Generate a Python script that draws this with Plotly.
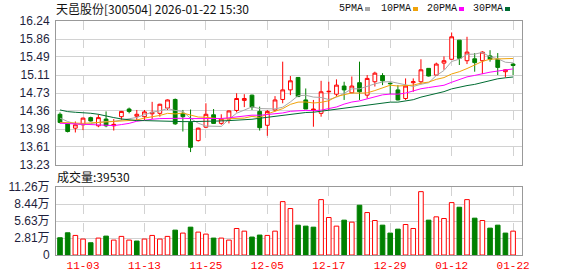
import plotly.graph_objects as go

# ---------------- data ----------------
dates = ["10-29", "10-30", "10-31",
         "11-03", "11-04", "11-05", "11-06", "11-07",
         "11-10", "11-11", "11-12", "11-13", "11-14",
         "11-17", "11-18", "11-19", "11-20", "11-21",
         "11-24", "11-25", "11-26", "11-27", "11-28",
         "12-01", "12-02", "12-03", "12-04", "12-05",
         "12-08", "12-09", "12-10", "12-11", "12-12",
         "12-15", "12-16", "12-17", "12-18", "12-19",
         "12-22", "12-23", "12-24", "12-25", "12-26",
         "12-29", "12-30", "12-31",
         "01-05", "01-06", "01-07", "01-08", "01-09",
         "01-12", "01-13", "01-14", "01-15", "01-16",
         "01-19", "01-20", "01-21", "01-22"]

open_ = [14.29, 14.09, 14.00, 14.07, 14.22, 14.05, 14.19, 14.05, 14.24, 14.40,
         14.25, 14.24, 14.30, 14.31, 14.42, 14.60, 14.31, 14.12, 13.74, 14.02,
         14.28, 14.10, 14.19, 14.37, 14.58, 14.69, 14.35, 14.06, 14.38, 14.60,
         14.80, 15.06, 14.59, 14.37, 14.31, 14.76, 14.71, 14.88, 14.74, 14.95,
         14.69, 14.97, 15.10, 14.94, 14.80, 14.62, 14.95, 14.97, 15.25, 15.11,
         15.36, 15.44, 15.84, 15.41, 15.45, 15.41, 15.51, 15.44, 15.18, 15.34]
high = [14.33, 14.10, 14.14, 14.22, 14.24, 14.29, 14.35, 14.19, 14.36, 14.43,
        14.38, 14.38, 14.55, 14.51, 14.60, 14.62, 14.38, 14.39, 14.01, 14.52,
        14.40, 14.29, 14.37, 14.73, 14.71, 14.70, 14.45, 14.38, 14.67, 15.39,
        15.09, 15.06, 14.83, 14.59, 14.99, 14.97, 15.02, 14.97, 15.08, 15.39,
        15.11, 15.18, 15.15, 14.95, 14.90, 15.04, 15.04, 15.44, 15.25, 15.37,
        15.50, 16.00, 15.84, 15.91, 15.57, 15.61, 15.63, 15.57, 15.23, 15.36]
low = [14.10, 13.91, 13.91, 13.96, 14.14, 14.02, 14.02, 13.95, 14.17, 14.31,
       14.17, 14.17, 14.19, 14.24, 14.38, 14.07, 13.93, 13.50, 13.72, 14.00,
       14.09, 14.07, 14.10, 14.33, 14.44, 14.38, 13.95, 13.84, 14.35, 14.52,
       14.69, 14.65, 14.40, 14.03, 14.24, 14.38, 14.66, 14.59, 14.73, 14.59,
       14.62, 14.87, 14.90, 14.71, 14.58, 14.59, 14.76, 14.92, 15.08, 15.09,
       15.22, 15.43, 15.32, 15.34, 15.18, 15.13, 15.39, 15.11, 15.06, 15.11]
close = [14.12, 13.93, 14.07, 14.21, 14.15, 14.22, 14.05, 14.08, 14.35, 14.35,
         14.29, 14.34, 14.33, 14.50, 14.59, 14.09, 14.24, 13.60, 14.00, 14.29,
         14.10, 14.19, 14.36, 14.62, 14.62, 14.44, 14.01, 14.35, 14.59, 14.80,
         14.99, 14.66, 14.40, 14.40, 14.76, 14.77, 14.90, 14.80, 14.88, 14.76,
         15.04, 15.15, 14.99, 14.93, 14.59, 14.88, 14.97, 15.22, 15.09, 15.34,
         15.41, 15.91, 15.46, 15.59, 15.37, 15.59, 15.44, 15.27, 15.22, 15.31]

volume = [28600, 36800, 32400, 26400, 20300, 28000, 31300, 24700, 30800, 24700,
          23100, 26400, 32400, 26400, 30800, 41200, 36300, 46100, 37900, 34600,
          28000, 28000, 24700, 43900, 39500, 29700, 33000, 32400, 39500, 88400,
          76900, 49400, 47800, 46100, 91700, 62100, 47800, 57700, 54400, 82400,
          70300, 57100, 49400, 36300, 42800, 50500, 43900, 104900, 57700, 63200,
          60400, 86800, 79100, 91700, 61000, 57100, 44500, 49400, 36300, 39530]
# 1 = red (up) volume bar, 0 = green (down)
vol_up = [0, 0, 1, 1, 0, 1, 0, 1, 1, 1,
          0, 1, 1, 1, 1, 0, 1, 0, 1, 1,
          0, 1, 1, 1, 1, 0, 0, 1, 1, 1,
          1, 0, 0, 0, 1, 1, 1, 0, 1, 0,
          1, 1, 0, 0, 0, 1, 1, 1, 0, 1,
          1, 1, 0, 1, 0, 1, 0, 0, 0, 1]

# moving-average values for the first bars (history before the window)
ma5_head = [14.21, 14.14, 14.09, 14.07]
ma10_head = [14.12, 14.11, 14.10, 14.10, 14.11, 14.12, 14.13, 14.14, 14.145]
ma20_head = [14.103, 14.096, 14.082, 14.075, 14.068, 14.061, 14.054, 14.054, 14.075, 14.10,
             14.145, 14.172, 14.186, 14.20, 14.207, 14.207, 14.207, 14.20, 14.20]
ma30_head = [14.381, 14.346, 14.332, 14.325, 14.311, 14.290, 14.249, 14.221, 14.193, 14.172,
             14.158, 14.158, 14.151, 14.151, 14.144, 14.137, 14.137, 14.137, 14.137, 14.144,
             14.151, 14.151, 14.158, 14.165, 14.172, 14.186, 14.207, 14.228, 14.249]

price_ticks = ["16.24", "15.86", "15.49", "15.11", "14.73", "14.36", "13.98", "13.61", "13.23"]
vol_tick_vals = [0, 28150, 56300, 84450, 112600]
vol_tick_text = ["0", "2.81万", "5.63万", "8.44万", "11.26万"]
x_tick_labels = ["11-03", "11-13", "11-25", "12-05", "12-17", "12-29", "01-12", "01-22"]

title_text = "天邑股份[300504] 2026-01-22 15:30"
vol_title = "成交量:39530"
ma_names = ["5PMA", "10PMA", "20PMA", "30PMA"]
ma_colors = ["#a8a8a8", "#f0a30a", "#ff00ff", "#006c32"]


def rolling(vals, n, head):
    out = list(head)
    for i in range(n - 1, len(vals)):
        out.append(sum(vals[i - n + 1:i + 1]) / n)
    return out


mas = [rolling(close, 5, ma5_head), rolling(close, 10, ma10_head),
       rolling(close, 20, ma20_head), rolling(close, 30, ma30_head)]

# ---------------- figure ----------------
W, H = 578, 276
L, R, T, B = 56, 56, 21, 21
PW, PH = W - L - R, H - T - B


def px_x(px):
    return (px - L) / PW


def px_y(py):
    return (H - B - py) / PH


RED, GREEN = "#ff0000", "#008000"
fig = go.Figure()

fig.add_trace(go.Candlestick(
    x=dates, open=open_, high=high, low=low, close=close,
    increasing=dict(line=dict(color=RED, width=1), fillcolor="#ffffff"),
    decreasing=dict(line=dict(color=GREEN, width=1), fillcolor=GREEN),
    whiskerwidth=0, xaxis="x", yaxis="y", showlegend=False, hoverinfo="skip"))

for name, col, vals in zip(ma_names, ma_colors, mas):
    fig.add_trace(go.Scatter(x=dates, y=vals, mode="lines", name=name,
                             line=dict(color=col, width=1), xaxis="x", yaxis="y",
                             showlegend=False, hoverinfo="skip"))

fig.add_trace(go.Bar(
    x=dates, y=volume, width=0.6,
    marker=dict(color=["#ffffff" if u else GREEN for u in vol_up],
                line=dict(color=[RED if u else GREEN for u in vol_up], width=1)),
    xaxis="x2", yaxis="y2", showlegend=False, hoverinfo="skip"))

xr = [-0.52, 60.16]
grid = "#d2d2d2"
axis_font = dict(family="Liberation Sans, Noto Sans CJK SC", size=12, color="#1e1e3c")
fig.update_layout(
    width=W, height=H, margin=dict(l=L, r=R, t=T, b=B, autoexpand=False),
    paper_bgcolor="#ffffff", plot_bgcolor="#ffffff",
    xaxis=dict(domain=[0, 1], anchor="y", type="category", range=xr,
               tickvals=x_tick_labels, showticklabels=False, automargin=False,
               showgrid=True, gridcolor=grid, griddash="dash", gridwidth=1,
               showline=True, mirror=True, linecolor="#999999", linewidth=1,
               rangeslider=dict(visible=False), fixedrange=True),
    yaxis=dict(domain=[px_y(165), 1], anchor="x", range=[13.23, 16.24],
               tickvals=[float(t) for t in price_ticks], ticktext=price_ticks,
               showgrid=True, gridcolor=grid, zeroline=False, ticks="",
               ticklabelstandoff=3, automargin=False,
               showline=True, mirror=True, linecolor="#999999", linewidth=1,
               tickfont=axis_font),
    xaxis2=dict(domain=[0, 1], anchor="y2", type="category", range=xr,
                tickvals=x_tick_labels, ticktext=x_tick_labels,
                showgrid=True, gridcolor=grid, griddash="dash", gridwidth=1,
                showline=True, mirror=True, linecolor="#999999", linewidth=1,
                ticks="", tickangle=0, automargin=False,
                tickfont=dict(family="Liberation Mono", size=11, color=RED)),
    yaxis2=dict(domain=[0, px_y(187)], anchor="x2", range=[0, 112600],
                tickvals=vol_tick_vals, ticktext=vol_tick_text,
                showgrid=True, gridcolor=grid, zeroline=False, ticks="",
                ticklabelstandoff=3, automargin=False,
                showline=True, mirror=True, linecolor="#999999", linewidth=1,
                tickfont=axis_font),
    bargap=0.4,
)

cjk_font = dict(family="Noto Sans CJK SC", size=12, color="#111111")
fig.add_annotation(text=title_text, xref="paper", yref="paper",
                   x=px_x(55), y=px_y(9), xanchor="left", yanchor="middle",
                   showarrow=False, font=cjk_font, borderpad=0)
fig.add_annotation(text=vol_title, xref="paper", yref="paper",
                   x=px_x(56), y=px_y(176.5), xanchor="left", yanchor="middle",
                   showarrow=False, font=cjk_font, borderpad=0)

leg_text_x = [338, 380, 426, 472]
leg_box_x = [365, 413, 459, 505]
for name, col, tx, bx in zip(ma_names, ma_colors, leg_text_x, leg_box_x):
    fig.add_annotation(text=name, xref="paper", yref="paper",
                       x=px_x(tx), y=px_y(9), xanchor="left", yanchor="middle",
                       showarrow=False, borderpad=0,
                       font=dict(family="Liberation Mono", size=10, color="#111111"))
    fig.add_shape(type="rect", xref="paper", yref="paper",
                  x0=px_x(bx), x1=px_x(bx + 5), y0=px_y(11), y1=px_y(7),
                  fillcolor=col, line=dict(width=0))

fig.write_html("out.html")
